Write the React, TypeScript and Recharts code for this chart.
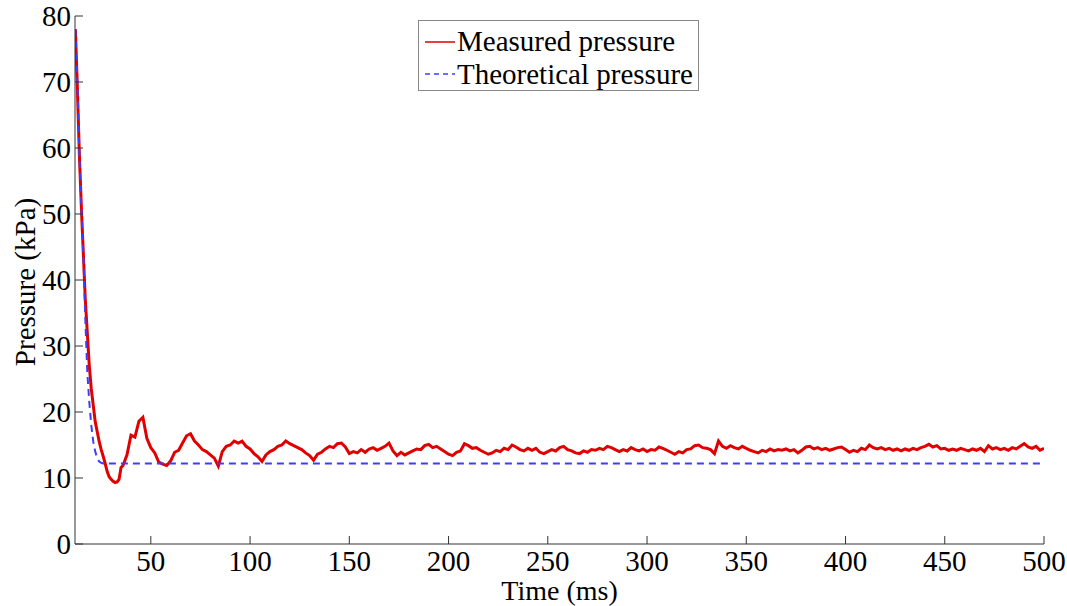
import { LineChart, Line, XAxis, YAxis, Legend, Label } from 'recharts';

const FONT = 'Liberation Serif, Times New Roman, serif';

// measured pressure, 1 ms samples over the initial drop (12..36 ms)
const dropStartMs = 12;
const dropPressure = [
  78, 69, 59, 51, 44, 37, 32, 27, 23.5, 21, 18.5, 17, 15.5, 14.3, 13.3, 12.2, 11, 10.2, 9.8, 9.5,
  9.3, 9.4, 9.8, 11.6, 11.9,
];

// measured pressure, 2 ms samples from 38 ms to 500 ms
const tailStartMs = 38;
const tailPressure = [
  13.5, 16.5, 16.2, 18.6, 19.2, 16.0, 14.6, 13.8, 12.4, 12.1,
  11.9, 12.6, 13.9, 14.2, 15.3, 16.4, 16.7, 15.6, 15.0, 14.3,
  14.0, 13.5, 13.0, 11.8, 14.0, 14.8, 15.0, 15.6, 15.3, 15.6,
  14.8, 14.4, 13.7, 13.2, 12.5, 13.5, 14.0, 14.3, 14.8, 15.0,
  15.6, 15.2, 14.9, 14.6, 14.3, 13.8, 13.4, 12.7, 13.6, 13.9,
  14.4, 14.8, 14.6, 15.2, 15.3, 14.7, 13.7, 14.0, 13.8, 14.3,
  13.9, 14.4, 14.6, 14.2, 14.5, 14.8, 15.3, 14.1, 13.4, 13.9,
  13.5, 13.8, 14.1, 14.4, 14.3, 14.9, 15.1, 14.6, 14.8, 14.4,
  14.0, 13.6, 13.4, 13.9, 14.1, 15.2, 14.9, 14.5, 14.6, 14.2,
  13.9, 13.6, 13.8, 14.2, 14.0, 14.5, 14.3, 15.0, 14.7, 14.3,
  14.1, 14.5, 14.2, 14.5, 13.9, 13.7, 14.0, 14.3, 14.1, 14.6,
  14.8, 14.3, 14.1, 13.8, 13.7, 14.1, 13.9, 14.3, 14.2, 14.5,
  14.3, 14.8, 14.6, 14.3, 14.0, 14.3, 14.1, 14.6, 14.3, 14.1,
  14.4, 14.0, 14.3, 14.2, 14.7, 14.5, 14.2, 13.9, 13.6, 14.0,
  13.8, 14.3, 14.4, 14.9, 15.0, 14.6, 14.5, 14.3, 13.7, 15.6,
  14.8, 14.5, 14.9, 14.6, 14.4, 14.8, 14.5, 14.2, 14.0, 13.8,
  14.2, 14.0, 14.4, 14.1, 14.3, 14.2, 14.4, 14.1, 14.3, 13.8,
  14.2, 14.7, 14.8, 14.4, 14.6, 14.3, 14.5, 14.2, 14.4, 14.6,
  14.7, 14.3, 13.9, 14.2, 14.0, 14.5, 14.3, 15.0, 14.6, 14.4,
  14.6, 14.3, 14.5, 14.2, 14.4, 14.1, 14.4, 14.2, 14.5, 14.3,
  14.6, 14.8, 15.1, 14.7, 14.9, 14.4, 14.5, 14.2, 14.4, 14.2,
  14.5, 14.3, 14.1, 14.4, 14.2, 14.5, 14.0, 14.9, 14.4, 14.6,
  14.3, 14.5, 14.2, 14.6, 14.4, 14.8, 15.2, 14.7, 14.5, 14.8,
  14.2, 14.5,
];

const theoreticalTime = [12, 13, 14, 15, 16, 17, 18, 19, 20, 21, 22, 23, 24, 25, 26, 500];
const theoreticalPressure = [78, 70, 59, 51, 44, 34, 26, 21.5, 18, 15.5, 14, 13, 12.5, 12.3, 12.2, 12.2];

const xTicks = [50, 100, 150, 200, 250, 300, 350, 400, 450, 500];
const yTicks = [0, 10, 20, 30, 40, 50, 60, 70, 80];

const measuredData = [
  ...dropPressure.map((p, i) => ({ t: dropStartMs + i, p })),
  ...tailPressure.map((p, i) => ({ t: tailStartMs + 2 * i, p })),
];
const theoreticalData = theoreticalTime.map((t, i) => ({ t, p: theoreticalPressure[i] }));

const RED = '#e00000';
const BLUE = '#3d3dff';
const AXIS = '#333';
const FS = 29;

const tickStyle = { fill: '#000', fontSize: FS, fontFamily: FONT };

function LegendBox() {
  return (
    <div
      style={{
        width: 281,
        height: 71,
        border: '1px solid #888',
        background: '#fff',
        fontFamily: FONT,
        fontSize: FS,
        color: '#000',
        paddingTop: 4,
        boxSizing: 'border-box',
        whiteSpace: 'nowrap',
      }}
    >
      <div style={{ display: 'flex', alignItems: 'center', height: 33 }}>
        <svg width={38} height={10} style={{ flex: 'none' }}>
          <line x1={6} y1={5} x2={36} y2={5} stroke={RED} strokeWidth={1.5} />
        </svg>
        <span style={{ lineHeight: '33px' }}>Measured pressure</span>
      </div>
      <div style={{ display: 'flex', alignItems: 'center', height: 32 }}>
        <svg width={38} height={10} style={{ flex: 'none' }}>
          <line x1={6} y1={5} x2={36} y2={5} stroke={BLUE} strokeWidth={1.5} strokeDasharray="5 4" />
        </svg>
        <span style={{ lineHeight: '32px' }}>Theoretical pressure</span>
      </div>
    </div>
  );
}

function YTitle(props: any) {
  const vb = props.viewBox || { x: 0, y: 16, width: 75, height: 528 };
  const cx = 25;
  const cy = vb.y + vb.height / 2 + 2;
  return (
    <text
      x={cx}
      y={cy}
      transform={`rotate(-90, ${cx}, ${cy})`}
      textAnchor="middle"
      dominantBaseline="central"
      fill="#000"
      fontSize={FS}
      fontFamily={FONT}
    >
      Pressure (kPa)
    </text>
  );
}

export default function App() {
  return (
    <div
      style={{
        position: 'absolute',
        left: 0,
        top: 0,
        width: 1067,
        height: 606,
        background: '#fff',
        fontFamily: FONT,
      }}
    >
      <LineChart width={1067} height={606} margin={{ top: 16, right: 23, bottom: 0, left: 0 }}>
        <XAxis
          type="number"
          dataKey="t"
          domain={[11.8, 500]}
          ticks={xTicks}
          interval={0}
          allowDataOverflow
          height={62}
          tickSize={-8}
          tickMargin={14}
          axisLine={{ stroke: AXIS }}
          tickLine={{ stroke: AXIS }}
          tick={tickStyle}
        >
          <Label value="Time (ms)" position="insideBottom" offset={6} fill="#000" fontSize={28} fontFamily={FONT} />
        </XAxis>
        <YAxis
          type="number"
          domain={[0, 80]}
          ticks={yTicks}
          interval={0}
          width={75}
          tickSize={-8}
          tickMargin={12}
          axisLine={{ stroke: AXIS }}
          tickLine={{ stroke: AXIS }}
          tick={tickStyle}
        >
          <Label content={YTitle} />
        </YAxis>
        <Legend
          layout="horizontal"
          verticalAlign="middle"
          align="center"
          content={() => <LegendBox />}
          wrapperStyle={{ left: 418, top: 20, width: 281, height: 71 }}
        />
        <Line
          data={measuredData}
          dataKey="p"
          name="Measured pressure"
          type="linear"
          stroke={RED}
          strokeWidth={3}
          dot={false}
          isAnimationActive={false}
        />
        <Line
          data={theoreticalData}
          dataKey="p"
          name="Theoretical pressure"
          type="linear"
          stroke={BLUE}
          strokeWidth={2}
          strokeDasharray="7 5"
          dot={false}
          isAnimationActive={false}
        />
      </LineChart>
    </div>
  );
}
